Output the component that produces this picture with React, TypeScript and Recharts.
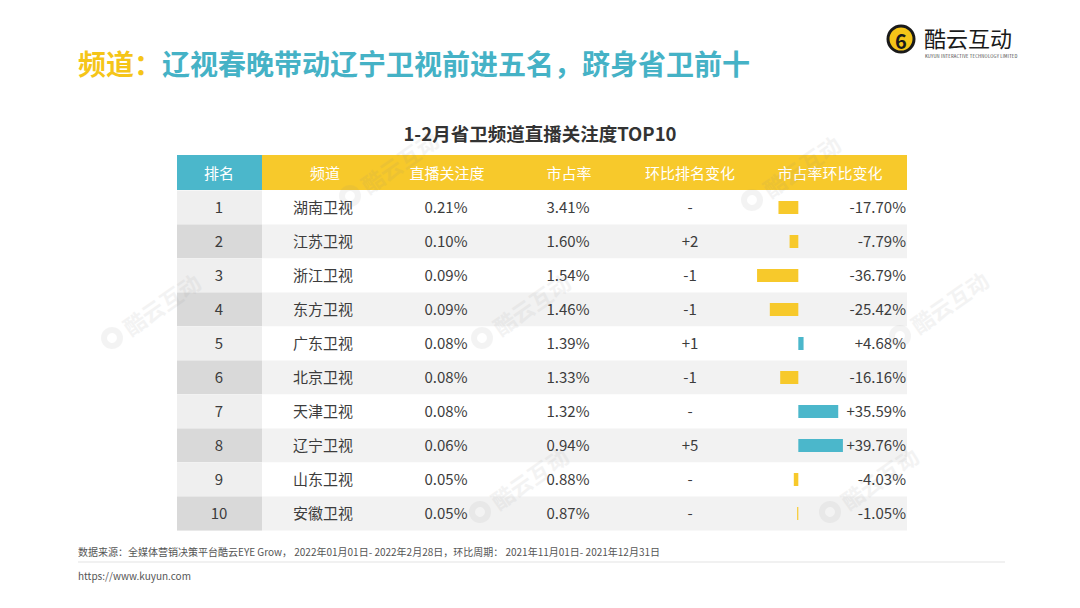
import React from 'react';
import { BarChart, Bar, XAxis, YAxis, Cell, LabelList } from 'recharts';

const ranks = [1, 2, 3, 4, 5, 6, 7, 8, 9, 10];
const channels = ['湖南卫视', '江苏卫视', '浙江卫视', '东方卫视', '广东卫视', '北京卫视', '天津卫视', '辽宁卫视', '山东卫视', '安徽卫视'];
const attention = [0.21, 0.10, 0.09, 0.09, 0.08, 0.08, 0.08, 0.06, 0.05, 0.05];
const share = [3.41, 1.60, 1.54, 1.46, 1.39, 1.33, 1.32, 0.94, 0.88, 0.87];
const rankChange = ['-', '+2', '-1', '-1', '+1', '-1', '-', '+5', '-', '-'];
const shareChange = [-17.70, -7.79, -36.79, -25.42, 4.68, -16.16, 35.59, 39.76, -4.03, -1.05];
const headers = ['排名', '频道', '直播关注度', '市占率', '环比排名变化', '市占率环比变化'];

const data = channels.map((c, i) => ({
  channel: c,
  rank: ranks[i],
  attention: attention[i],
  share: share[i],
  rankChange: rankChange[i],
  change: shareChange[i],
}));

const W = 1080;
const H = 608;
const TOP = 190;
const BOTTOM = 530;
const ROW_H = (BOTTOM - TOP) / data.length;
const TL = 177;
const TR = 907;
const RANK_R = 262;
const YELLOW = '#F7C92B';
const BLUE = '#4BB7CB';
const TEXT = '#3c3c3c';
const FONT = '"Noto Sans CJK SC", "Noto Sans", sans-serif';
const colX = [219, 323, 446, 568, 690];
const headX = [219, 325, 447, 569, 690, 830];

const fmtPct = (v: number) => (v > 0 ? '+' : '') + v.toFixed(2) + '%';

const rowIndex = (cy: number) => Math.round((cy - TOP - ROW_H / 2) / ROW_H);

const RowBg = (props: any) => {
  const { y, height } = props;
  const cy = y + height / 2;
  const idx = rowIndex(cy);
  const even = idx % 2 === 1;
  return (
    <g>
      <rect x={TL} y={cy - ROW_H / 2} width={TR - TL} height={ROW_H} fill={even ? '#f2f2f2' : '#ffffff'} />
      <rect x={TL} y={cy - ROW_H / 2} width={RANK_R - TL} height={ROW_H} fill={even ? '#d9d9d9' : '#efefef'} />
    </g>
  );
};

const RowText = (props: any) => {
  const { y, height } = props;
  const cy = Number(y) + Number(height) / 2;
  const i = typeof props.index === 'number' ? props.index : rowIndex(cy);
  const d = data[i];
  if (!d) return null;
  const common = { y: cy - 1, dominantBaseline: 'central' as const, fontSize: 15, fill: TEXT, fontFamily: FONT };
  return (
    <g>
      <text x={colX[0]} textAnchor="middle" {...common}>{d.rank}</text>
      <text x={colX[1]} textAnchor="middle" {...common}>{d.channel}</text>
      <text x={colX[2]} textAnchor="middle" {...common}>{d.attention.toFixed(2) + '%'}</text>
      <text x={colX[3]} textAnchor="middle" {...common}>{d.share.toFixed(2) + '%'}</text>
      <text x={colX[4]} textAnchor="middle" {...common}>{d.rankChange}</text>
      <text x={906} textAnchor="end" {...common}>{fmtPct(d.change)}</text>
    </g>
  );
};

const Watermark = ({ x, y }: { x: number; y: number }) => (
  <g transform={`translate(${x},${y}) rotate(-35)`} opacity={0.09}>
    <circle cx={0} cy={0} r={11} fill="#888" />
    <circle cx={0} cy={0} r={5} fill="#fff" />
    <text x={16} y={0} dominantBaseline="central" fontSize={22} fontWeight={700} fill="#888" fontFamily={FONT}>酷云互动</text>
  </g>
);

export default function App() {
  return (
    <div style={{ position: 'absolute', left: 0, top: 0, width: W, height: H, background: '#fff', overflow: 'hidden' }}>
      <svg width={W} height={H} style={{ position: 'absolute', left: 0, top: 0 }}>
        <text x={78} y={63} dominantBaseline="central" fontSize={28} fontWeight={700} fontFamily={FONT}>
          <tspan fill="#F5C518">频道：</tspan>
          <tspan fill="#45B2C6">辽视春晚带动辽宁卫视前进五名，跻身省卫前十</tspan>
        </text>
        {/* logo */}
        <circle cx={901} cy={39} r={13} fill="#F5C518" stroke="#1a1a1a" strokeWidth={3} />
        <text x={901} y={40} textAnchor="middle" dominantBaseline="central" fontSize={20} fontWeight={700} fill="#1a1a1a" fontFamily={FONT}>6</text>
        <text x={924} y={37} dominantBaseline="central" fontSize={22} fill="#1a1a1a" fontFamily={FONT}>酷云互动</text>
        <text x={925} y={56} dominantBaseline="central" fontSize={4.2} fill="#333" fontFamily={FONT} letterSpacing={0.2}>KUYUN INTERACTIVE TECHNOLOGY LIMITED</text>
        {/* table title */}
        <text x={540} y={133} textAnchor="middle" dominantBaseline="central" fontSize={18.5} fontWeight={700} fill="#333" fontFamily={FONT}>1-2月省卫频道直播关注度TOP10</text>
        {/* header */}
        <rect x={TL} y={155} width={TR - TL} height={35} fill={YELLOW} />
        <rect x={TL} y={155} width={RANK_R - TL} height={35} fill={BLUE} />
        {headers.map((h, i) => (
          <text key={h} x={headX[i]} y={172} textAnchor="middle" dominantBaseline="central" fontSize={15} fill="#fff" fontFamily={FONT}>{h}</text>
        ))}
        {/* footer */}
        <text x={78} y={551} dominantBaseline="central" fontSize={10} fill="#555" fontFamily={FONT}>数据来源：全媒体营销决策平台酷云EYE Grow， 2022年01月01日- 2022年2月28日，环比周期： 2021年11月01日- 2021年12月31日</text>
        <line x1={78} x2={1005} y1={562} y2={562} stroke="#e3e3e3" strokeWidth={1} />
        <text x={78} y={575} dominantBaseline="central" fontSize={10} fill="#555" fontFamily={FONT}>https://www.kuyun.com</text>
      </svg>
      <div style={{ position: 'absolute', left: 0, top: 0 }}>
        <BarChart
          width={W}
          height={H}
          data={data}
          layout="vertical"
          margin={{ top: TOP, bottom: H - BOTTOM, left: 740, right: W - 860 }}
        >
          <XAxis type="number" domain={[-52, 55]} hide />
          <YAxis type="category" dataKey="channel" hide />
          <Bar dataKey="change" barSize={13} isAnimationActive={false} background={<RowBg />}>
            {data.map((d, i) => (
              <Cell key={i} fill={d.change < 0 ? YELLOW : BLUE} />
            ))}
            <LabelList dataKey="change" content={<RowText />} />
          </Bar>
        </BarChart>
      </div>
      <svg width={W} height={H} style={{ position: 'absolute', left: 0, top: 0, pointerEvents: 'none' }}>
        <Watermark x={112} y={338} />
        <Watermark x={482} y={338} />
        <Watermark x={752} y={200} />
        <Watermark x={350} y={196} />
        <Watermark x={900} y={336} />
        <Watermark x={830} y={512} />
        <Watermark x={480} y={512} />
      </svg>
    </div>
  );
}
